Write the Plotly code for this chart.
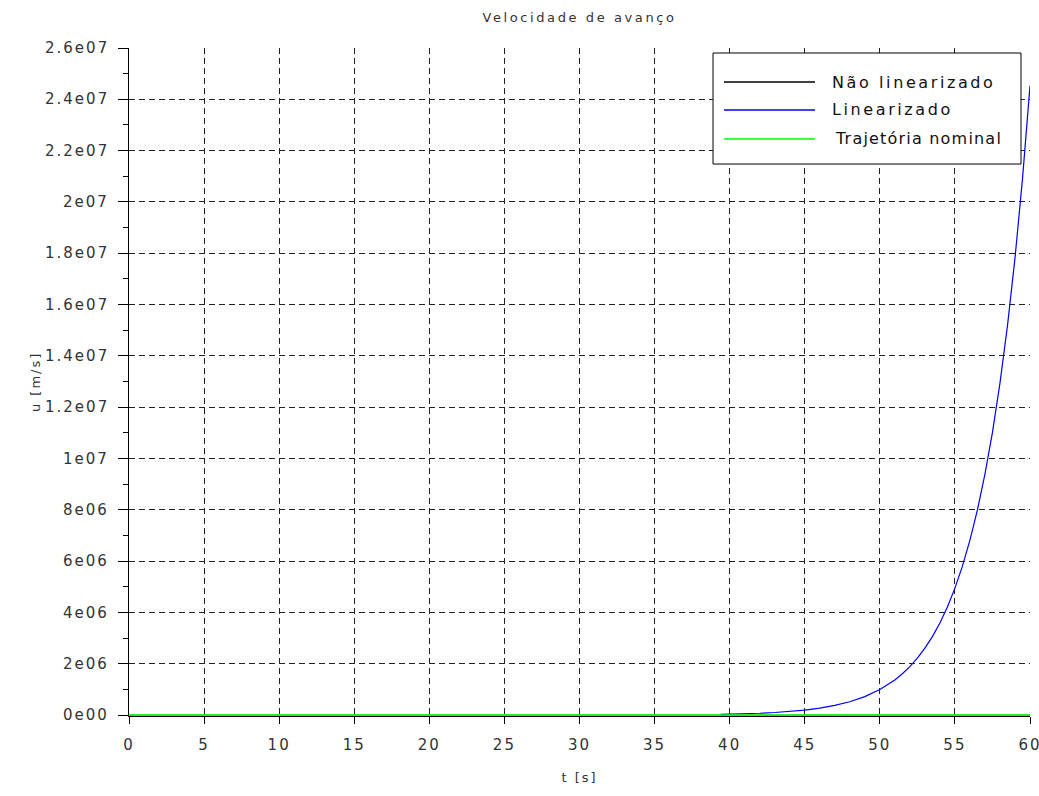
import plotly.graph_objects as go

# Time axis and responses of the forward velocity u(t)
t_nominal = [0, 60]
u_nominal = [0, 0]

t_nao_linear = [0, 60]
u_nao_linear = [0, 0]

t_linear = [39.4, 40, 41, 42, 43, 44, 45, 46, 47, 48, 49, 50, 50.5, 51, 51.5,
            52, 52.5, 53, 53.5, 54, 54.5, 55, 55.5, 56, 56.5, 57, 57.5, 58,
            58.5, 59, 59.5, 60]
u_linear = [3.4e4, 4.1e4, 5.6e4, 7.7e4, 1.07e5, 1.47e5, 2.02e5, 2.78e5, 3.83e5,
            5.27e5, 7.26e5, 1.0e6, 1.174e6, 1.377e6, 1.616e6, 1.896e6, 2.226e6,
            2.612e6, 3.065e6, 3.597e6, 4.221e6, 4.953e6, 5.81e6, 6.821e6,
            8.0e6, 9.393e6, 11.02e6, 12.94e6, 15.18e6, 17.81e6, 20.9e6, 24.53e6]

x_ticks = [0, 5, 10, 15, 20, 25, 30, 35, 40, 45, 50, 55, 60]
x_tick_text = ["0", "5", "10", "15", "20", "25", "30", "35", "40", "45", "50", "55", "60"]
y_ticks = [0, 2e6, 4e6, 6e6, 8e6, 1e7, 1.2e7, 1.4e7, 1.6e7, 1.8e7, 2e7, 2.2e7, 2.4e7, 2.6e7]
y_tick_text = ["0e00", "2e06", "4e06", "6e06", "8e06", "1e07", "1.2e07", "1.4e07",
               "1.6e07", "1.8e07", "2e07", "2.2e07", "2.4e07", "2.6e07"]

series_names = ["Não linearizado", "Linearizado", "Trajetória nominal"]
series_colors = ["black", "#0000ff", "#00ff00"]

FONT = "DejaVu Sans"
TXT = "#333333"
GRID = "#222222"


def spaced(text, px=2):
    """Wrap a label so it is drawn with extra letter spacing."""
    return f'<span style="letter-spacing:{px}px">{text}</span>'


fig = go.Figure()
fig.add_trace(go.Scatter(x=t_nao_linear, y=u_nao_linear, mode="lines",
                         name=series_names[0], showlegend=False,
                         line=dict(color=series_colors[0], width=1.2)))
fig.add_trace(go.Scatter(x=t_linear, y=u_linear, mode="lines",
                         name=series_names[1], showlegend=False,
                         line=dict(color=series_colors[1], width=1.2)))
fig.add_trace(go.Scatter(x=t_nominal, y=u_nominal, mode="lines",
                         name=series_names[2], showlegend=False,
                         line=dict(color=series_colors[2], width=2)))

# Boxed legend in the upper-right corner of the axes
box_x0, box_x1, box_y0, box_y1 = 0.6482, 0.990, 0.8263, 0.9925
row_y = [0.9491, 0.9072, 0.8638]
row_text_x = [0.7780, 0.7780, 0.7814]
row_spacing = [2.6, 2.6, 1.2]
sample_x0, sample_x1 = 0.6604, 0.7614

shapes = [dict(type="rect", xref="paper", yref="paper",
               x0=box_x0, x1=box_x1, y0=box_y0, y1=box_y1,
               fillcolor="white", line=dict(color="black", width=1), layer="above")]
annotations = []
for name, color, y, tx, sp in zip(series_names, series_colors, row_y,
                                  row_text_x, row_spacing):
    shapes.append(dict(type="line", xref="paper", yref="paper",
                       x0=sample_x0, x1=sample_x1, y0=y, y1=y,
                       line=dict(color=color, width=1.5), layer="above"))
    annotations.append(dict(text=spaced(name, sp), xref="paper", yref="paper",
                            x=tx, y=y, xanchor="left", yanchor="middle",
                            showarrow=False,
                            font=dict(family=FONT, size=16, color="#111111")))

# Y tick labels, right-aligned a little away from the tick marks
for val, label in zip(y_ticks, y_tick_text):
    annotations.append(dict(text=spaced(label), xref="paper", yref="y",
                            x=-0.0205, y=val, xanchor="right", yanchor="middle",
                            showarrow=False,
                            font=dict(family=FONT, size=15, color=TXT)))

# Vertical axis title
annotations.append(dict(text=spaced("u [m/s]"), xref="paper", yref="paper",
                        x=-0.1043, y=0.5, xanchor="center", yanchor="middle",
                        textangle=-90, showarrow=False,
                        font=dict(family=FONT, size=13, color=TXT)))

fig.update_layout(
    width=1039, height=796,
    paper_bgcolor="white", plot_bgcolor="white",
    margin=dict(l=129, r=9, t=48, b=80),
    font=dict(family=FONT, size=14, color=TXT),
    title=dict(text=spaced("Velocidade de avanço", 2.6), xref="paper", x=0.5,
               xanchor="center", yref="container", y=0.9786, yanchor="middle",
               font=dict(family=FONT, size=13, color=TXT)),
    showlegend=False,
    shapes=shapes,
    annotations=annotations,
)

fig.update_xaxes(
    range=[0, 60], tickvals=x_ticks, ticktext=[spaced(s) for s in x_tick_text],
    ticks="outside", ticklen=7, tickcolor="black", ticklabeloverflow="allow",
    ticklabelstandoff=8, automargin=False, layer="below traces",
    showline=True, linecolor="black", linewidth=1, mirror=False,
    showgrid=True, gridcolor=GRID, griddash="6px,4px", gridwidth=1,
    zeroline=False, tickfont=dict(family=FONT, size=15, color=TXT),
    title=dict(text=spaced("t [s]"), standoff=19,
               font=dict(family=FONT, size=13, color=TXT)),
)
fig.update_yaxes(
    range=[-3e4, 2.6e7], tickvals=y_ticks, showticklabels=False,
    ticks="outside", ticklen=10, tickcolor="black", automargin=False,
    layer="below traces",
    minor=dict(ticks="outside", ticklen=5, tickcolor="black", dtick=1e6, showgrid=False),
    showline=True, linecolor="black", linewidth=1, mirror=False,
    showgrid=True, gridcolor=GRID, griddash="6px,4px", gridwidth=1,
    zeroline=False,
)

fig.write_html("out.html")
